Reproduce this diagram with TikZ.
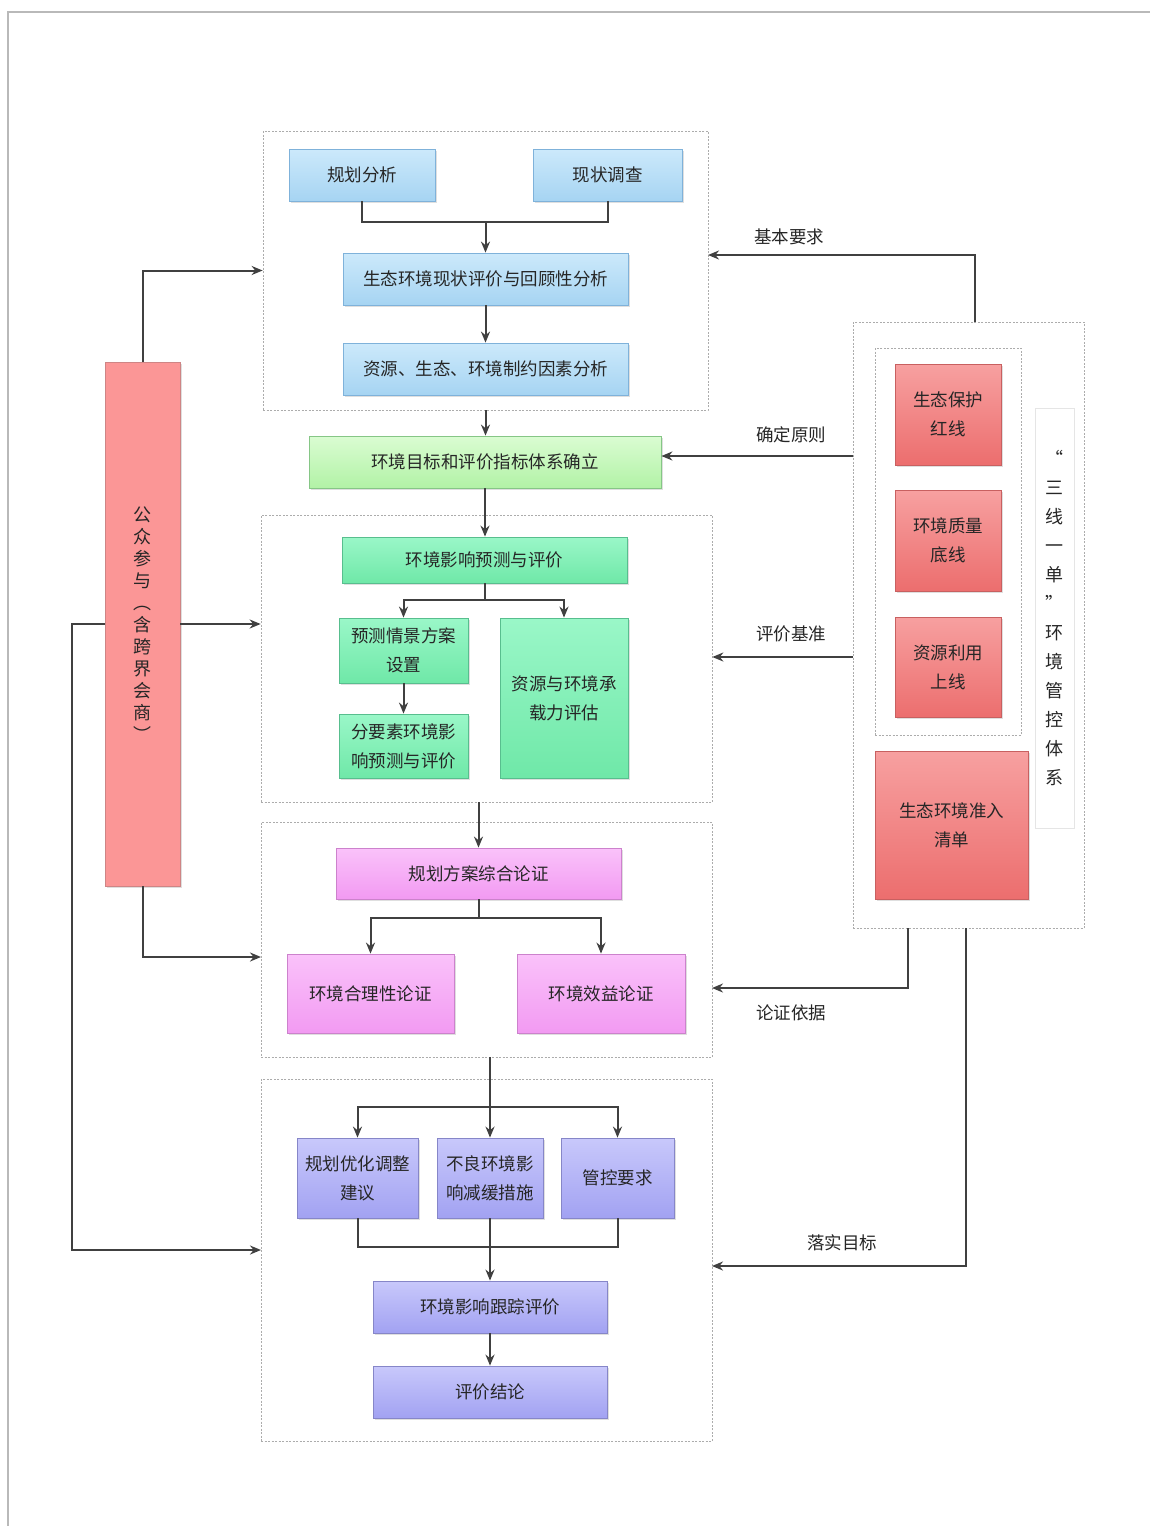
\documentclass[tikz,border=0pt]{standalone}
\usepackage{fontspec}
\newfontfamily\cjk{Noto Sans CJK SC}
\usetikzlibrary{arrows.meta,shadows}
\definecolor{txt}{HTML}{262626}
\definecolor{lnc}{HTML}{404040}
\definecolor{blueT}{HTML}{CCE9FB}
\definecolor{blueB}{HTML}{A6D4F2}
\definecolor{blueD}{HTML}{7FB2DA}
\definecolor{grnT}{HTML}{DAFCD2}
\definecolor{grnB}{HTML}{B2F2A6}
\definecolor{grnD}{HTML}{86C686}
\definecolor{tealT}{HTML}{9AF7C8}
\definecolor{tealB}{HTML}{6FE8A8}
\definecolor{tealD}{HTML}{58BE8E}
\definecolor{pinkT}{HTML}{FAC2FA}
\definecolor{pinkB}{HTML}{F29AF2}
\definecolor{pinkD}{HTML}{CC82CC}
\definecolor{purT}{HTML}{C8C8FB}
\definecolor{purB}{HTML}{A2A2F2}
\definecolor{purD}{HTML}{8686C8}
\definecolor{redT}{HTML}{F7A0A0}
\definecolor{redB}{HTML}{EC6E6E}
\definecolor{redD}{HTML}{C86060}
\definecolor{pubF}{HTML}{FB9696}
\tikzset{
  box/.style={draw, line width=0.8pt, inner sep=0pt, align=center, text=txt,
    font=\cjk\fontsize{17.5}{29}\selectfont,
    drop shadow={opacity=0.25, shadow xshift=2pt, shadow yshift=-2pt}},
  bluebox/.style={box, top color=blueT, bottom color=blueB, draw=blueD},
  grnbox/.style={box, top color=grnT, bottom color=grnB, draw=grnD},
  tealbox/.style={box, top color=tealT, bottom color=tealB, draw=tealD},
  pinkbox/.style={box, top color=pinkT, bottom color=pinkB, draw=pinkD},
  purbox/.style={box, top color=purT, bottom color=purB, draw=purD},
  redbox/.style={box, top color=redT, bottom color=redB, draw=redD},
  grp/.style={draw=gray!65, dash pattern=on 2pt off 1.5pt, line width=0.7pt, inner sep=0pt},
  ln/.style={draw=lnc, line width=2pt},
  arr/.style={ln, -{Stealth[length=11pt,width=9pt]}},
  lbl/.style={text=txt, font=\cjk\fontsize{17.5}{20}\selectfont, inner sep=0pt},
}
\begin{document}
\begin{tikzpicture}[x=1pt,y=-1pt]
\useasboundingbox (0,0) rectangle (1150,1526);
\fill[white] (0,0) rectangle (1150,1526);
\draw[gray!55, line width=1.2pt] (8,1526) -- (8,12) -- (1150,12);

% group frames
\node[grp, minimum width=445, minimum height=279] (g1) at (485.5,270.5) {};
\node[grp, minimum width=451, minimum height=287] (g2) at (486.5,658.5) {};
\node[grp, minimum width=451, minimum height=235] (g3) at (486.5,939.5) {};
\node[grp, minimum width=451, minimum height=362] (g4) at (486.5,1260) {};
\node[grp, minimum width=231, minimum height=606] (outer) at (968.5,625) {};
\node[grp, minimum width=146, minimum height=387] (inner) at (948,541.5) {};

% group 1
\node[bluebox, minimum width=146, minimum height=52] (ghfx) at (362,175) {规划分析};
\node[bluebox, minimum width=149, minimum height=52] (xzdc) at (607.5,175) {现状调查};
\node[bluebox, minimum width=285, minimum height=52] (stxz) at (485.5,279) {生态环境现状评价与回顾性分析};
\node[bluebox, minimum width=285, minimum height=52] (zyst) at (485.5,369) {资源、生态、环境制约因素分析};

\node[grnbox, minimum width=352, minimum height=52] (mb) at (485,462) {环境目标和评价指标体系确立};

% group 2
\node[tealbox, minimum width=285, minimum height=46] (yc) at (484.5,560) {环境影响预测与评价};
\node[tealbox, minimum width=129, minimum height=65] (qj) at (403.5,650.5) {预测情景方案\\设置};
\node[tealbox, minimum width=129, minimum height=64] (fys) at (403.5,746) {分要素环境影\\响预测与评价};
\node[tealbox, minimum width=128, minimum height=160] (czl) at (564,698) {资源与环境承\\载力评估};

% group 3
\node[pinkbox, minimum width=285, minimum height=51] (lz) at (478.5,873.5) {规划方案综合论证};
\node[pinkbox, minimum width=167, minimum height=79] (hl) at (370.5,993.5) {环境合理性论证};
\node[pinkbox, minimum width=168, minimum height=79] (xy) at (601,993.5) {环境效益论证};

% group 4
\node[purbox, minimum width=121, minimum height=80] (yh) at (357.5,1178) {规划优化调整\\建议};
\node[purbox, minimum width=106, minimum height=80] (bl) at (490,1178) {不良环境影\\响减缓措施};
\node[purbox, minimum width=113, minimum height=80] (gk) at (617.5,1178) {管控要求};
\node[purbox, minimum width=234, minimum height=52] (gz) at (490,1307) {环境影响跟踪评价};
\node[purbox, minimum width=234, minimum height=52] (jl) at (490,1392) {评价结论};

% public participation
\node[box, fill=pubF, draw=pubF!80!black!90, minimum width=75, minimum height=524,
  font=\cjk\fontsize{18}{22}\selectfont] (pub) at (142.5,624)
  {公\\众\\参\\与\\︵\\含\\跨\\界\\会\\商\\︶};

% right side
\node[redbox, minimum width=106, minimum height=101] (hx) at (948,414.5) {生态保护\\红线};
\node[redbox, minimum width=106, minimum height=101] (dx) at (948,540.5) {环境质量\\底线};
\node[redbox, minimum width=106, minimum height=100] (sx) at (948,667) {资源利用\\上线};
\node[redbox, minimum width=153, minimum height=148] (qd) at (951.5,825) {生态环境准入\\清单};
\node[draw=gray!20, line width=0.6pt, minimum width=39, minimum height=420, inner sep=0pt,
  align=center, text=txt, font=\cjk\fontsize{18}{29}\selectfont] (sxyd) at (1054.5,618)
  {“\\三\\线\\一\\单\\”\\环\\境\\管\\控\\体\\系};

% connectors group 1
\coordinate (j1) at (485.5,222);
\draw[ln] (ghfx.south) |- (j1) -| (xzdc.south);
\draw[arr] (j1) -- (stxz.north);
\draw[arr] (stxz.south) -- (zyst.north);
\draw[arr] (g1.south) -- (mb.north -| g1.south);
\draw[arr] (mb.south) -- (yc.north -| mb.south);

% group 2
\coordinate (j2) at (484.5,600);
\draw[ln] (yc.south) -- (j2);
\draw[arr] (j2) -| (qj.north);
\draw[arr] (j2) -| (czl.north);
\draw[arr] (qj.south) -- (fys.north);
\draw[arr] (lz.north |- g2.south) -- (lz.north);

% group 3
\coordinate (j3) at (478.5,918);
\draw[ln] (lz.south) -- (j3);
\draw[arr] (j3) -| (hl.north);
\draw[arr] (j3) -| (xy.north);

% group 4
\coordinate (j4) at (490,1107);
\draw[ln] (bl.north |- g3.south) -- (j4);
\draw[arr] (j4) -- (bl.north);
\draw[arr] (j4) -| (yh.north);
\draw[arr] (j4) -| (gk.north);
\coordinate (j5) at (490,1247);
\draw[ln] (yh.south) |- (j5) -| (gk.south);
\draw[arr] (bl.south) -- (gz.north);
\draw[arr] (gz.south) -- (jl.north);

% left connectors
\draw[arr] (pub.north) |- (g1.west);
\draw[arr] (pub.east) -- (pub.east -| g2.west);
\coordinate (c3) at (261,957);
\draw[arr] (pub.south) |- (c3);
\coordinate (lx) at (72,624);
\coordinate (c4) at (261,1250);
\draw[arr] (pub.west) -- (lx) |- (c4);

% right connectors
\coordinate (r1) at (975,322);
\coordinate (r1e) at (708,255);
\draw[arr] (r1) |- (r1e);
\coordinate (r2) at (853,456);
\draw[arr] (r2) -- (r2 -| mb.east);
\coordinate (r3) at (853,657);
\draw[arr] (r3) -- (r3 -| g2.east);
\coordinate (r4) at (908,928);
\coordinate (r4e) at (712,988);
\draw[arr] (r4) |- (r4e);
\coordinate (r5) at (966,928);
\coordinate (r5e) at (712,1266);
\draw[arr] (r5) |- (r5e);

% labels
\node[lbl] (l1) at (789,237) {基本要求};
\node[lbl] (l2) at (791,435) {确定原则};
\node[lbl] (l3) at (791,634) {评价基准};
\node[lbl] (l4) at (791,1013) {论证依据};
\node[lbl] (l5) at (842,1243) {落实目标};
\end{tikzpicture}
\end{document}
